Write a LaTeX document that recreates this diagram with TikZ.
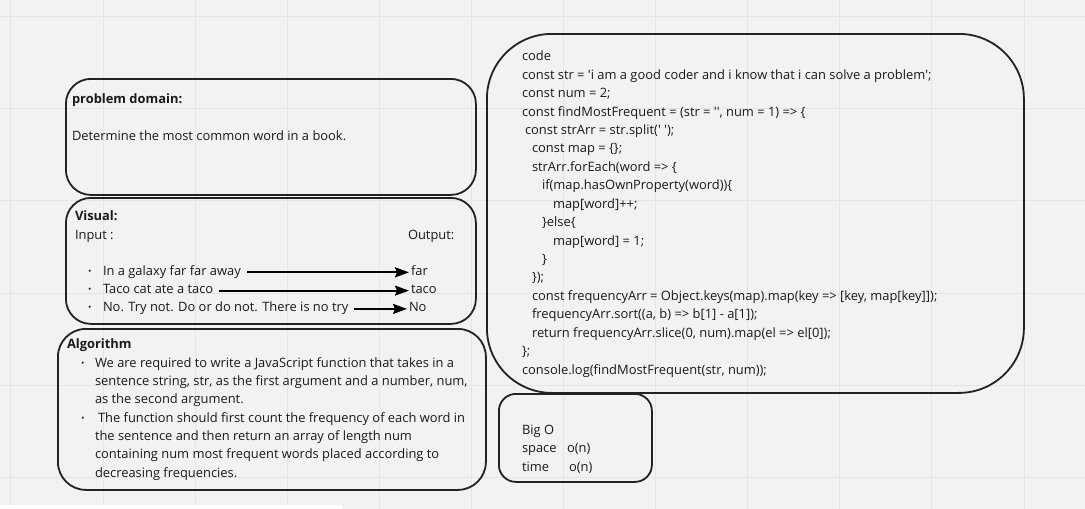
\documentclass[tikz,border=0pt]{standalone}
\usepackage{fontspec}
\setmainfont{Open Sans}
\usetikzlibrary{arrows.meta}
\definecolor{bgcol}{RGB}{242,242,242}
\definecolor{gridcol}{RGB}{229,229,229}
\definecolor{inkcol}{RGB}{26,26,26}
\definecolor{edgecol}{RGB}{34,34,34}
\newcommand{\qs}{\textquotesingle}
\begin{document}
\begin{tikzpicture}[x=1pt,y=-1pt,
  every node/.style={font=\fontsize{12.9}{18.3}\selectfont, text=inkcol},
  txt/.style={anchor=base west, inner sep=0pt, outer sep=0pt},
  hd/.style={txt, font=\fontsize{12.9}{18.3}\selectfont\bfseries},
  dot/.style={anchor=base west, inner sep=0pt, font=\fontsize{9}{9}\selectfont},
  panel/.style={draw=edgecol, line width=1.8pt, anchor=north west, inner sep=0pt},
  arr/.style={draw=black, line width=2pt, -{Stealth[length=14pt,width=10pt,inset=2pt]}, shorten <=6pt, shorten >=2pt}
]
\useasboundingbox (0,0) rectangle (1085,509);
\fill[bgcol] (0,0) rectangle (1085,509);
\foreach \gx in {10.9,103,195.1,287.2,379.3,471.4,563.5,655.6,747.7,839.8,931.9,1024}
  \draw[gridcol, line width=1pt] (\gx,0) -- (\gx,509);
\foreach \gy in {16,108,200.5,293,385,477}
  \draw[gridcol, line width=1pt] (0,\gy) -- (1085,\gy);
\fill[white] (0,505) rectangle (342,509);

% panels
\node[panel, rounded corners=25pt, minimum width=410pt, minimum height=116pt] (pd) at (65,78) {};
\node[panel, rounded corners=25pt, minimum width=410pt, minimum height=126pt] (vis) at (65,197) {};
\node[panel, rounded corners=28pt, minimum width=428pt, minimum height=161pt] (alg) at (57,328) {};
\node[panel, rounded corners=65pt, minimum width=537pt, minimum height=359pt] (code) at (486,33) {};
\node[panel, rounded corners=17pt, minimum width=153pt, minimum height=88pt] (bigo) at (498,393) {};

% problem domain
\node[hd] (pdT) at (72,103) {problem domain:};
\node[txt] (pdD) at (72,140) {Determine the most common word in a book.};

% visual
\node[hd] (visT) at (75,220) {Visual:};
\node[txt] (inT) at (75,239) {Input :};
\node[txt] (outT) at (408,239) {Output:};
\node[dot] (b1) at (88,274) {•};
\node[dot] (b2) at (88,292.3) {•};
\node[dot] (b3) at (88,310.6) {•};
\node[txt] (in1) at (103,275) {In a galaxy far far away};
\node[txt] (in2) at (103,293.3) {Taco cat ate a taco};
\node[txt] (in3) at (103,311.6) {No. Try not. Do or do not. There is no try};
\node[txt] (out1) at (411,275) {far};
\node[txt] (out2) at (411,293.3) {taco};
\node[txt] (out3) at (409,311.6) {No};
\draw[arr] (in1.mid east) -- (out1.mid west);
\draw[arr] (in2.mid east) -- (out2.mid west);
\draw[arr] (in3.mid east) -- (out3.mid west);

% algorithm
\node[hd] (algT) at (67,348) {Algorithm};
\node[dot] (ab1) at (81,366) {•};
\node[dot] (ab2) at (81,421) {•};
\node[txt] (a1) at (95,367) {We are required to write a JavaScript function that takes in a};
\node[txt] (a2) at (95,385.3) {sentence string, str, as the first argument and a number, num,};
\node[txt] (a3) at (95,403.6) {as the second argument.};
\node[txt] (a4) at (98,422) {The function should first count the frequency of each word in};
\node[txt] (a5) at (95,440.3) {the sentence and then return an array of length num};
\node[txt] (a6) at (95,458.6) {containing num most frequent words placed according to};
\node[txt] (a7) at (95,477) {decreasing frequencies.};

% code
\node[txt] (c0) at (522,60.7) {code};
\node[txt] (c1) at (522,79.1) {const str = \qs i am a good coder and i know that i can solve a problem\qs;};
\node[txt] (c2) at (522,97.6) {const num = 2;};
\node[txt] (c3) at (522,116) {const findMostFrequent = (str = \qs\qs, num = 1) => \{};
\node[txt] (c4) at (525,134.4) {const strArr = str.split(\qs\ \qs);};
\node[txt] (c5) at (532,152.9) {const map = \{\};};
\node[txt] (c6) at (532,171.3) {strArr.forEach(word => \{};
\node[txt] (c7) at (542,189.7) {if(map.hasOwnProperty(word))\{};
\node[txt] (c8) at (553,208.1) {map[word]++;};
\node[txt] (c9) at (542,226.6) {\}else\{};
\node[txt] (c10) at (553,245) {map[word] = 1;};
\node[txt] (c11) at (542,263.4) {\}};
\node[txt] (c12) at (532,281.8) {\});};
\node[txt] (c13) at (532,300.3) {const frequencyArr = Object.keys(map).map(key => [key, map[key]]);};
\node[txt] (c14) at (532,318.7) {frequencyArr.sort((a, b) => b[1] - a[1]);};
\node[txt] (c15) at (532,337.1) {return frequencyArr.slice(0, num).map(el => el[0]);};
\node[txt] (c16) at (522,355.6) {\};};
\node[txt] (c17) at (522,374) {console.log(findMostFrequent(str, num));};

% big O
\node[txt] (o1) at (522,434) {Big O};
\node[txt] (o2) at (522,452.5) {\makebox[45pt][l]{space}o(n)};
\node[txt] (o3) at (522,471) {\makebox[47pt][l]{time}o(n)};
\end{tikzpicture}
\end{document}
